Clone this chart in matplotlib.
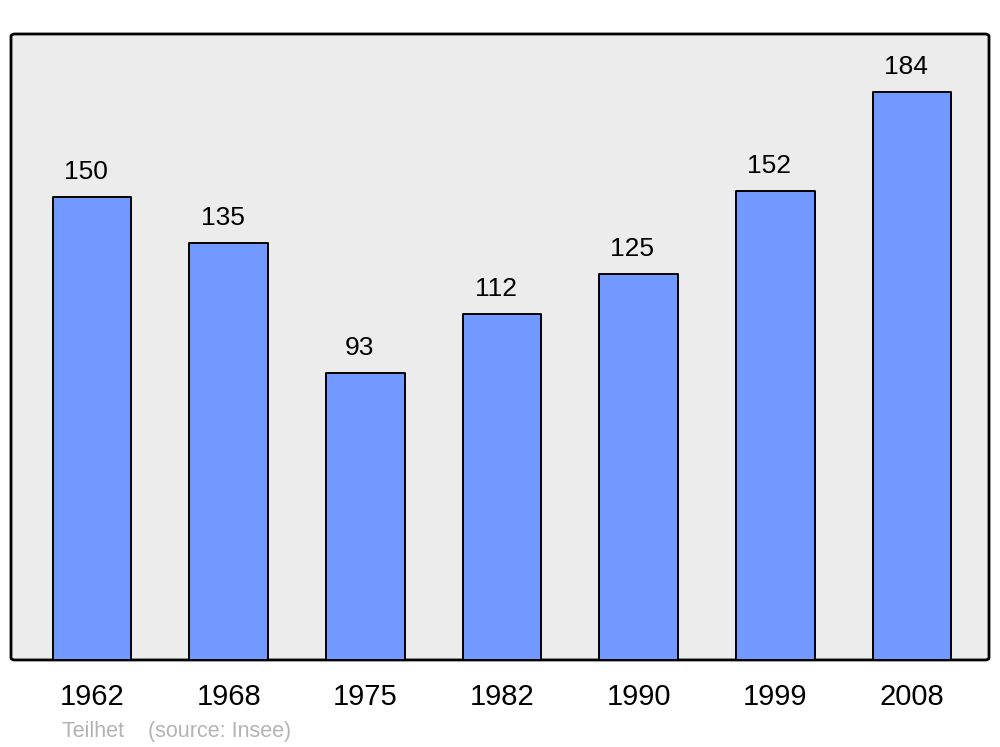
import matplotlib
matplotlib.use("Agg")
import matplotlib.pyplot as plt
from matplotlib.patches import FancyBboxPatch

years = ["1962", "1968", "1975", "1982", "1990", "1999", "2008"]
population = [150, 135, 93, 112, 125, 152, 184]

bar_color = "#7299FF"
bg_color = "#ECECEC"

plt.rcParams['font.family'] = ['Liberation Sans', 'DejaVu Sans']

fig = plt.figure(figsize=(10, 7.47), dpi=100)
ax = fig.add_axes([0.011, 0.1165, 0.978, 0.838])
ax.set_facecolor("none")

# rounded frame behind everything
frame = FancyBboxPatch((0, 0), 1, 1, boxstyle="round,pad=0,rounding_size=0.004",
                       transform=ax.transAxes, facecolor=bg_color,
                       edgecolor="black", linewidth=2, zorder=0, clip_on=False)
ax.add_patch(frame)

x = list(range(len(years)))
bars = ax.bar(x, population, width=0.575, color=bar_color, edgecolor="black",
              linewidth=1.4, zorder=2)
for b in bars:
    b.set_joinstyle("round")

for xi, v in zip(x, population):
    ax.annotate(str(v), (xi, v), xytext=(-4.5, 13), textcoords="offset points",
                ha="center", va="baseline", fontsize=19)

ax.set_xlim(-0.593, 6.563)
ax.set_ylim(0, 202.8)
ax.set_xticks(x)
ax.set_xticklabels(years, fontsize=21)
ax.set_yticks([])
ax.tick_params(axis="x", length=0, pad=16.5)
for s in ax.spines.values():
    s.set_visible(False)

fig.text(0.062, 0.0135, "Teilhet    (source: Insee)", fontsize=15.5,
         color="#B3B3B3", ha="left", va="baseline")

fig.savefig("out.png", dpi=100, facecolor="white")
